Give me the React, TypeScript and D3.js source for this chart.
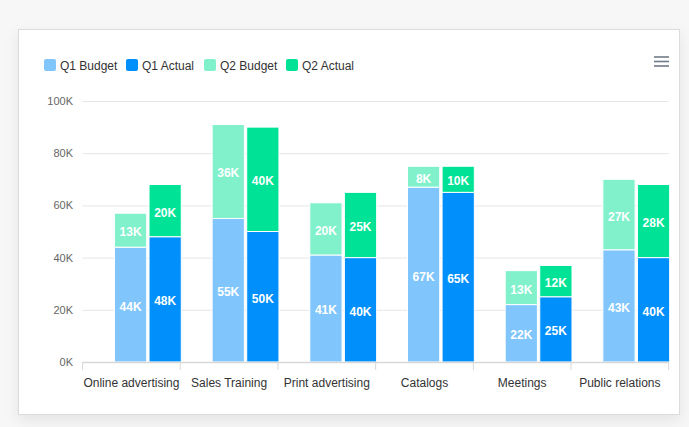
import * as d3 from "d3";
import React from "react";

const categories = [
  "Online advertising",
  "Sales Training",
  "Print advertising",
  "Catalogs",
  "Meetings",
  "Public relations",
];
const q1Budget = [44, 55, 41, 67, 22, 43];
const q1Actual = [48, 50, 40, 65, 25, 40];
const q2Budget = [13, 36, 20, 8, 13, 27];
const q2Actual = [20, 40, 25, 10, 12, 28];
const yTicks = [0, 20, 40, 60, 80, 100];
const seriesNames = ["Q1 Budget", "Q1 Actual", "Q2 Budget", "Q2 Actual"];
const colors = ["#80c6fc", "#008ffb", "#80f1cb", "#00e396"];

const W = 689;
const H = 427;
const font = "'Liberation Sans', Arial, sans-serif";

const App = () => {
  const x = d3.scaleBand().domain(categories).range([82.6, 668.7]).padding(0);
  const y = d3.scaleLinear().domain([0, 100]).range([362, 101]);
  const bw = x.bandwidth();

  // two stacks per category: budget (Q1+Q2) and actual (Q1+Q2)
  const stacks = [
    { off: 0.326, q1: q1Budget, q2: q2Budget, c1: colors[0], c2: colors[2] },
    { off: 0.68, q1: q1Actual, q2: q2Actual, c1: colors[1], c2: colors[3] },
  ];
  const barW = bw * 0.33;

  const legendX = [44, 126, 204, 286];

  return (
    <svg
      width={W}
      height={H}
      style={{ position: "absolute", left: 0, top: 0, fontFamily: font }}
    >
      <defs>
        <filter id="shadow" x="-10%" y="-10%" width="120%" height="130%">
          <feDropShadow dx="0" dy="5" stdDeviation="7" floodColor="#000" floodOpacity="0.08" />
        </filter>
      </defs>
      <rect width={W} height={H} fill="#f7f7f7" />
      <rect
        x={18.5}
        y={29.5}
        width={661}
        height={385}
        fill="#fff"
        stroke="#dcdcdc"
        filter="url(#shadow)"
      />

      {/* legend */}
      {seriesNames.map((s, i) => (
        <g key={s}>
          <rect x={legendX[i]} y={59} width={12} height={12} rx={2} fill={colors[i]} />
          <text x={legendX[i] + 16} y={70} fontSize={12} fill="#333">
            {s}
          </text>
        </g>
      ))}

      {/* menu icon */}
      {[57, 61.5, 66].map((yy) => (
        <line key={yy} x1={654} x2={669} y1={yy} y2={yy} stroke="#707a86" strokeWidth={1.6} />
      ))}

      {/* grid + y labels */}
      {yTicks.map((t) => (
        <g key={t}>
          {t > 0 && (
            <line x1={82.6} x2={668.7} y1={y(t) + 0.5} y2={y(t) + 0.5} stroke="#e6e6e6" />
          )}
          <text x={73} y={y(t) + 4} fontSize={11} fill="#666" textAnchor="end">
            {t}K
          </text>
        </g>
      ))}

      {/* bars */}
      {categories.map((c, i) =>
        stacks.map((s, j) => {
          const bx = (x(c) as number) + s.off * bw;
          const y0 = y(0);
          const y1 = y(s.q1[i]);
          const y2 = y(s.q1[i] + s.q2[i]);
          return (
            <g key={c + j}>
              <rect x={bx} y={y1} width={barW} height={y0 - y1} fill={s.c1} stroke="#fff" strokeWidth={1} />
              <rect x={bx} y={y2} width={barW} height={y1 - y2} fill={s.c2} stroke="#fff" strokeWidth={1} />
              <text
                x={bx + barW / 2}
                y={(y0 + y1) / 2 + 6}
                textAnchor="middle"
                fontSize={12}
                fontWeight="bold"
                fill="#fff"
              >
                {s.q1[i]}K
              </text>
              <text
                x={bx + barW / 2}
                y={(y1 + y2) / 2 + 6}
                textAnchor="middle"
                fontSize={12}
                fontWeight="bold"
                fill="#fff"
              >
                {s.q2[i]}K
              </text>
            </g>
          );
        })
      )}

      {/* x axis */}
      <line x1={82.6} x2={668.7} y1={362.5} y2={362.5} stroke="#d8d8d8" strokeWidth={1.5} />
      {[...categories.map((c) => x(c) as number), 668.7].map((tx, i) => (
        <line key={i} x1={tx} x2={tx} y1={362} y2={370} stroke="#d8d8d8" />
      ))}
      {categories.map((c) => (
        <text
          key={c}
          x={(x(c) as number) + bw / 2}
          y={387}
          textAnchor="middle"
          fontSize={12}
          fill="#333"
        >
          {c}
        </text>
      ))}
    </svg>
  );
};

export default App;
